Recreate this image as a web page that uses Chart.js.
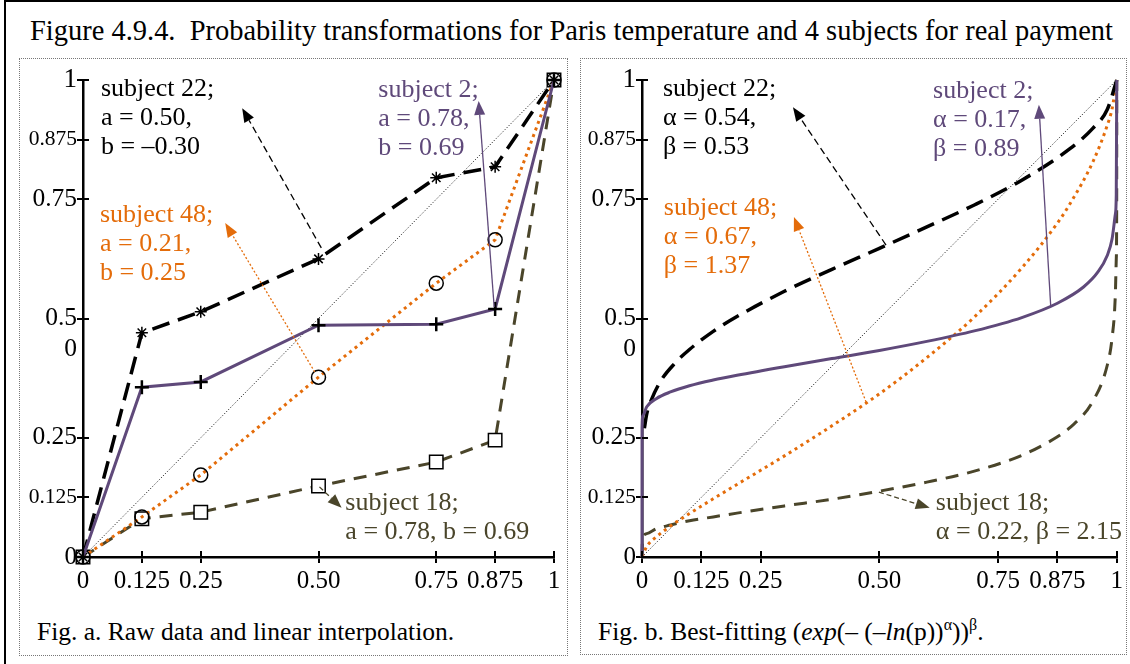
<!DOCTYPE html>
<html>
<head>
<meta charset="utf-8">
<script src="https://cdn.jsdelivr.net/npm/chart.js@4.4.1/dist/chart.umd.min.js"></script>
<style>
  html, body { margin: 0; padding: 0; background: #fff; }
  body { width: 1130px; height: 664px; position: relative; overflow: hidden; font-family: 'Liberation Serif', serif; color: #000; }
  #frame { position: absolute; left: 4px; top: 0; width: 1150px; height: 700px; border-left: 2px solid #000; border-top: 2px solid #000; }
  #title { position: absolute; left: 30px; top: 16px; font-size: 29px; line-height: 29px; white-space: nowrap; transform-origin: 0 0; }
  .panel { position: absolute; border: 1.5px dotted #777; box-sizing: border-box; }
  canvas { position: absolute; }
  .cap { position: absolute; font-size: 25.5px; line-height: 25.5px; white-space: nowrap; }
  .cap sup { font-size: 16px; vertical-align: 10px; line-height: 0; }
</style>
</head>
<body>
<div id="frame"></div>
<div id="title">Figure 4.9.4.&nbsp; Probability transformations for Paris temperature and 4 subjects for real payment</div>
<div class="panel" style="left:19px; top:58px; width:549px; height:598px;"></div>
<div class="panel" style="left:580px; top:58px; width:547px; height:597px;"></div>
<canvas id="rawChart" width="545" height="545" style="left:20px; top:60px;"></canvas>
<canvas id="fitChart" width="545" height="545" style="left:581px; top:60px;"></canvas>
<div class="cap" style="left:37px; top:619px;">Fig. a. Raw data and linear interpolation.</div>
<div class="cap" style="left:598px; top:619px;">Fig. b. Best-fitting (<i>exp</i>(– (–<i>ln</i>(p))<sup>α</sup>))<sup>β</sup>.</div>

<script>
// ---- axis ticks ----
const tickValues = [0, 0.125, 0.25, 0.5, 0.75, 0.875, 1];
const yTickLabels = ['0', '0.125', '0.25', ['', '0.5', '0'], '0.75', '0.875', '1'];
const xTickLabels = ['0', '0.125', '0.25', '0.50', '0.75', '0.875', '1'];

// ---- Fig. a: raw data (probability levels and elicited weights) ----
const pLevels = [0, 0.125, 0.25, 0.5, 0.75, 0.875, 1];
const rawS22 = [0, 0.47, 0.514, 0.625, 0.795, 0.818, 1];
const rawS2  = [0, 0.356, 0.367, 0.486, 0.488, 0.52, 1];
const rawS48 = [0, 0.084, 0.172, 0.377, 0.574, 0.665, 1];
const rawS18 = [0, 0.08, 0.094, 0.149, 0.199, 0.245, 1];

// ---- Fig. b: fitted weighting curves ----
const fitX22 = [0.005, 0.01, 0.02, 0.04, 0.07, 0.1, 0.15, 0.2, 0.3, 0.4, 0.5, 0.6, 0.7, 0.8, 0.9, 0.95, 0.98, 1];
const fitY22 = [0.27, 0.30, 0.33, 0.37, 0.407, 0.435, 0.473, 0.504, 0.557, 0.603, 0.647, 0.692, 0.738, 0.79, 0.855, 0.899, 0.938, 1];
const fitX2  = [0, 0.0001, 0.002, 0.01, 0.03, 0.06, 0.1, 0.15, 0.2, 0.3, 0.4, 0.5, 0.6, 0.7, 0.8, 0.875, 0.93, 0.96, 0.98, 0.99, 0.997, 0.999, 1];
const fitY2  = [0, 0.27, 0.297, 0.315, 0.332, 0.346, 0.359, 0.371, 0.381, 0.399, 0.416, 0.433, 0.452, 0.474, 0.502, 0.532, 0.566, 0.597, 0.632, 0.666, 0.718, 0.76, 1];
const fitX48 = [0, 0.01, 0.03, 0.06, 0.1, 0.15, 0.2, 0.3, 0.4, 0.5, 0.6, 0.7, 0.8, 0.875, 0.9, 0.95, 0.98, 0.99, 1];
const fitY48 = [0, 0.022, 0.042, 0.065, 0.091, 0.122, 0.152, 0.212, 0.275, 0.342, 0.418, 0.503, 0.606, 0.70, 0.738, 0.829, 0.905, 0.939, 1];
const fitX18 = [0, 0.001, 0.01, 0.03, 0.06, 0.1, 0.15, 0.2, 0.3, 0.4, 0.5, 0.6, 0.7, 0.8, 0.875, 0.9, 0.95, 0.98, 0.99, 0.997, 0.999, 0.9999, 1];
const fitY18 = [0, 0.037, 0.049, 0.059, 0.067, 0.076, 0.084, 0.092, 0.107, 0.121, 0.138, 0.157, 0.18, 0.213, 0.252, 0.27, 0.327, 0.402, 0.458, 0.549, 0.625, 0.753, 1];

// reference diagonal w(p) = p
const diagX = [0, 1];
const diagY = [0, 1];

// ---- colours ----
const INK = '#000000';
const PURPLE = '#5f497a';
const ORANGE = '#e46c0a';
const OLIVE = '#4a452a';
const FONT = "'Liberation Serif', 'Times New Roman', serif";

// labels and pointer arrows (positions in data units)
const notesA = [
  { lines: ['subject 22;', 'a = 0.50,', 'b = –0.30'], color: INK, x: 0.038, y: 0.981 },
  { lines: ['subject 2;', 'a = 0.78,', 'b = 0.69'], color: PURPLE, x: 0.627, y: 0.979 },
  { lines: ['subject 48;', 'a = 0.21,', 'b = 0.25'], color: ORANGE, x: 0.036, y: 0.717 },
  { lines: ['subject 18;', 'a = 0.78, b = 0.69'], color: OLIVE, x: 0.557, y: 0.113 }
];
const arrowsA = [
  { from: [0.506, 0.648], to: [0.338, 0.941], color: INK, dash: [7, 4] },
  { from: [0.873, 0.524], to: [0.840, 0.956], color: PURPLE, dash: [] },
  { from: [0.492, 0.388], to: [0.302, 0.700], color: ORANGE, dash: [2, 2] },
  { from: [0.502, 0.147], to: [0.549, 0.103], color: OLIVE, dash: [5, 3] }
];
const notesB = [
  { lines: ['subject 22;', 'α = 0.54,', 'β = 0.53'], color: INK, x: 0.044, y: 0.981 },
  { lines: ['subject 2;', 'α = 0.17,', 'β = 0.89'], color: PURPLE, x: 0.613, y: 0.977 },
  { lines: ['subject 48;', 'α = 0.67,', 'β = 1.37'], color: ORANGE, x: 0.046, y: 0.732 },
  { lines: ['subject 18;', 'α = 0.22, β = 2.15'], color: OLIVE, x: 0.619, y: 0.113 }
];
const arrowsB = [
  { from: [0.514, 0.654], to: [0.318, 0.943], color: INK, dash: [7, 4] },
  { from: [0.861, 0.524], to: [0.836, 0.948], color: PURPLE, dash: [] },
  { from: [0.472, 0.325], to: [0.320, 0.713], color: ORANGE, dash: [2, 2] },
  { from: [0.499, 0.136], to: [0.606, 0.103], color: OLIVE, dash: [5, 3] }
];

function pts(xs, ys) { return xs.map((x, i) => ({ x: x, y: ys[i] })); }

// draws tick marks across the axis line and the text/arrow call-outs
const overlayPlugin = {
  id: 'overlay',
  afterDraw(chart, args, opts) {
    const ctx = chart.ctx;
    const sx = chart.scales.x, sy = chart.scales.y;
    const area = chart.chartArea;
    ctx.save();
    ctx.strokeStyle = '#000';
    ctx.lineWidth = 2;
    sx.ticks.forEach(t => {
      const px = Math.round(sx.getPixelForValue(t.value));
      ctx.beginPath(); ctx.moveTo(px, area.bottom); ctx.lineTo(px, area.bottom - 6); ctx.stroke();
    });
    sy.ticks.forEach(t => {
      const py = Math.round(sy.getPixelForValue(t.value));
      ctx.beginPath(); ctx.moveTo(area.left, py); ctx.lineTo(area.left + 6, py); ctx.stroke();
    });

    (opts.arrows || []).forEach(a => {
      const x0 = sx.getPixelForValue(a.from[0]), y0 = sy.getPixelForValue(a.from[1]);
      const x1 = sx.getPixelForValue(a.to[0]), y1 = sy.getPixelForValue(a.to[1]);
      const ang = Math.atan2(y1 - y0, x1 - x0);
      const len = 14, wid = 11;
      const bx = x1 - len * Math.cos(ang), by = y1 - len * Math.sin(ang);
      ctx.strokeStyle = a.color;
      ctx.lineWidth = 1.3;
      ctx.setLineDash(a.dash);
      ctx.beginPath(); ctx.moveTo(x0, y0); ctx.lineTo(bx, by); ctx.stroke();
      ctx.setLineDash([]);
      ctx.fillStyle = a.color;
      ctx.beginPath();
      ctx.moveTo(x1, y1);
      ctx.lineTo(bx + wid / 2 * Math.sin(ang), by - wid / 2 * Math.cos(ang));
      ctx.lineTo(bx - wid / 2 * Math.sin(ang), by + wid / 2 * Math.cos(ang));
      ctx.closePath(); ctx.fill();
    });

    ctx.font = '26px ' + FONT;
    ctx.textAlign = 'left';
    ctx.textBaseline = 'middle';
    (opts.notes || []).forEach(n => {
      const x = sx.getPixelForValue(n.x), y = sy.getPixelForValue(n.y);
      ctx.fillStyle = n.color;
      n.lines.forEach((line, i) => ctx.fillText(line, x, y + i * 29));
    });
    ctx.restore();
  }
};

function axisOptions(labels, sizes, isX, axisSize) {
  return {
    type: 'linear', min: 0, max: 1, offset: false,
    afterBuildTicks: s => { s.ticks = tickValues.map(v => ({ value: v })); },
    afterFit: s => { if (isX) s.height = axisSize; else s.width = axisSize; },
    border: { display: true, color: '#000', width: 2.5 },
    grid: { display: true, drawOnChartArea: false, drawTicks: true, tickLength: 6, color: '#000', lineWidth: 2 },
    ticks: {
      autoSkip: false, maxRotation: 0, minRotation: 0,
      padding: isX ? 3 : 0,
      color: '#000',
      font: c => ({ family: FONT, size: sizes[c.index], lineHeight: 1.2 }),
      callback: (v, i) => labels[i]
    }
  };
}

const ySizes = [25, 21.5, 25.5, 25.5, 25.5, 21.5, 27];
const xSizes = [25, 25, 25, 25, 25, 25, 25];

function makeChart(id, datasets, yAxisWidth, padRight, notes, arrows) {
  return new Chart(document.getElementById(id), {
    type: 'scatter',
    data: { datasets: datasets },
    options: {
      responsive: false, animation: false, devicePixelRatio: 1,
      layout: { padding: { left: 0, right: padRight, top: 20, bottom: 0 } },
      scales: {
        x: axisOptions(xTickLabels, xSizes, true, 48),
        y: axisOptions(yTickLabels, ySizes, false, yAxisWidth)
      },
      plugins: { legend: { display: false }, tooltip: { enabled: false }, overlay: { notes: notes, arrows: arrows } },
      elements: { line: { fill: false } }
    },
    plugins: [overlayPlugin]
  });
}

const common = { showLine: true, fill: false, clip: false, tension: 0 };

makeChart('rawChart', [
  Object.assign({}, common, { data: pts(pLevels, rawS2), borderColor: PURPLE, borderWidth: 3,
    pointStyle: 'cross', pointRadius: 7, pointBorderColor: '#000', pointBorderWidth: 2.5 }),
  Object.assign({}, common, { data: pts(pLevels, rawS22), borderColor: INK, borderWidth: 3.5, borderDash: [18, 9],
    pointStyle: 'star', pointRadius: 6, pointBorderColor: '#000', pointBorderWidth: 1.5 }),
  Object.assign({}, common, { data: pts(pLevels, rawS48), borderColor: ORANGE, borderWidth: 3, borderDash: [3, 4],
    pointStyle: 'circle', pointRadius: 7, pointBorderColor: '#000', pointBackgroundColor: 'rgba(0,0,0,0)', pointBorderWidth: 1.5 }),
  Object.assign({}, common, { data: pts(pLevels, rawS18), borderColor: OLIVE, borderWidth: 3, borderDash: [13, 9],
    pointStyle: 'rect', pointRadius: 9.5, pointBorderColor: '#000', pointBackgroundColor: '#fff', pointBorderWidth: 1.5 }),
  Object.assign({}, common, { data: pts(diagX, diagY), borderColor: '#000', borderWidth: 1, borderDash: [1, 2], pointRadius: 0 })
], 63, 8, notesA, arrowsA);

const smooth = Object.assign({}, common, { cubicInterpolationMode: 'monotone', pointRadius: 0 });

makeChart('fitChart', [
  Object.assign({}, smooth, { data: pts(fitX2, fitY2), borderColor: PURPLE, borderWidth: 3 }),
  Object.assign({}, smooth, { data: pts(fitX22, fitY22), borderColor: INK, borderWidth: 3.5, borderDash: [18, 9] }),
  Object.assign({}, smooth, { data: pts(fitX48, fitY48), borderColor: ORANGE, borderWidth: 3, borderDash: [3, 4] }),
  Object.assign({}, smooth, { data: pts(fitX18, fitY18), borderColor: OLIVE, borderWidth: 3, borderDash: [13, 9] }),
  Object.assign({}, common, { data: pts(diagX, diagY), borderColor: '#000', borderWidth: 1, borderDash: [1, 2], pointRadius: 0 })
], 61, 9, notesB, arrowsB);

// fit the heading across the frame
const title = document.getElementById('title');
const tw = title.getBoundingClientRect().width;
title.style.transform = 'scaleX(' + (1083 / tw) + ')';
</script>
</body>
</html>
